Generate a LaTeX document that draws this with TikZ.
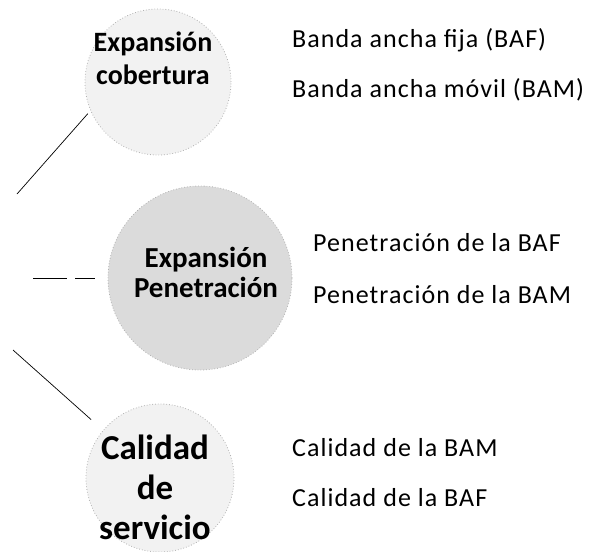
\documentclass[tikz,border=0pt]{standalone}
\usepackage{fontspec}
\setmainfont{Carlito}
\newfontfamily\itemfont[LetterSpace=4]{Carlito}
\usetikzlibrary{calc}

\begin{document}
\begin{tikzpicture}[
    x=1pt, y=-1pt,
    zone/.style={circle, draw=gray!60, dotted, thick, fill=gray!10},
    zonedense/.style={zone, fill=gray!28},
    title/.style={align=center, font=\bfseries\fontsize{28}{33}\selectfont},
    item/.style={anchor=west, inner xsep=0pt, font=\itemfont\fontsize{26}{30}\selectfont},
    link/.style={line width=0.7pt}
    ]
    \useasboundingbox (0,0) rectangle (595,552);

    \node[zone, minimum size=146pt] (cob) at (158,82) {};
    \node[zonedense, minimum size=184pt] (pen) at (200,278) {};
    \node[zone, minimum size=148pt] (cal) at (160,478) {};

    \node[title] (tcob) at (153,58) {Expansión\\cobertura};
    \node[title, font=\bfseries\fontsize{29}{30}\selectfont] (tpen) at (206,272) {Expansión\\Penetración};
    \node[title, font=\bfseries\fontsize{35}{40}\selectfont] (tcal) at (155,487) {Calidad\\de\\servicio};

    \node[item] (baf) at (292,40) {Banda ancha fija (BAF)};
    \node[item] (bam) at (292,90) {Banda ancha móvil (BAM)};
    \node[item] (pbaf) at (313,243) {Penetración de la BAF};
    \node[item] (pbam) at (313,295) {Penetración de la BAM};
    \node[item] (cbam) at (292,448) {Calidad de la BAM};
    \node[item] (cbaf) at (292,498) {Calidad de la BAF};

    \coordinate (s1) at (17,194);
    \coordinate (s2) at (33,278);
    \coordinate (s3) at (13,350);
    \draw[link, shorten >=4pt] (s1) -- (cob.203);
    \draw[link, dash pattern=on 34pt off 8pt, shorten >=13pt] (s2) -- (pen.west);
    \draw[link, shorten >=16pt] (s3) -- (cal.140);
\end{tikzpicture}
\end{document}
